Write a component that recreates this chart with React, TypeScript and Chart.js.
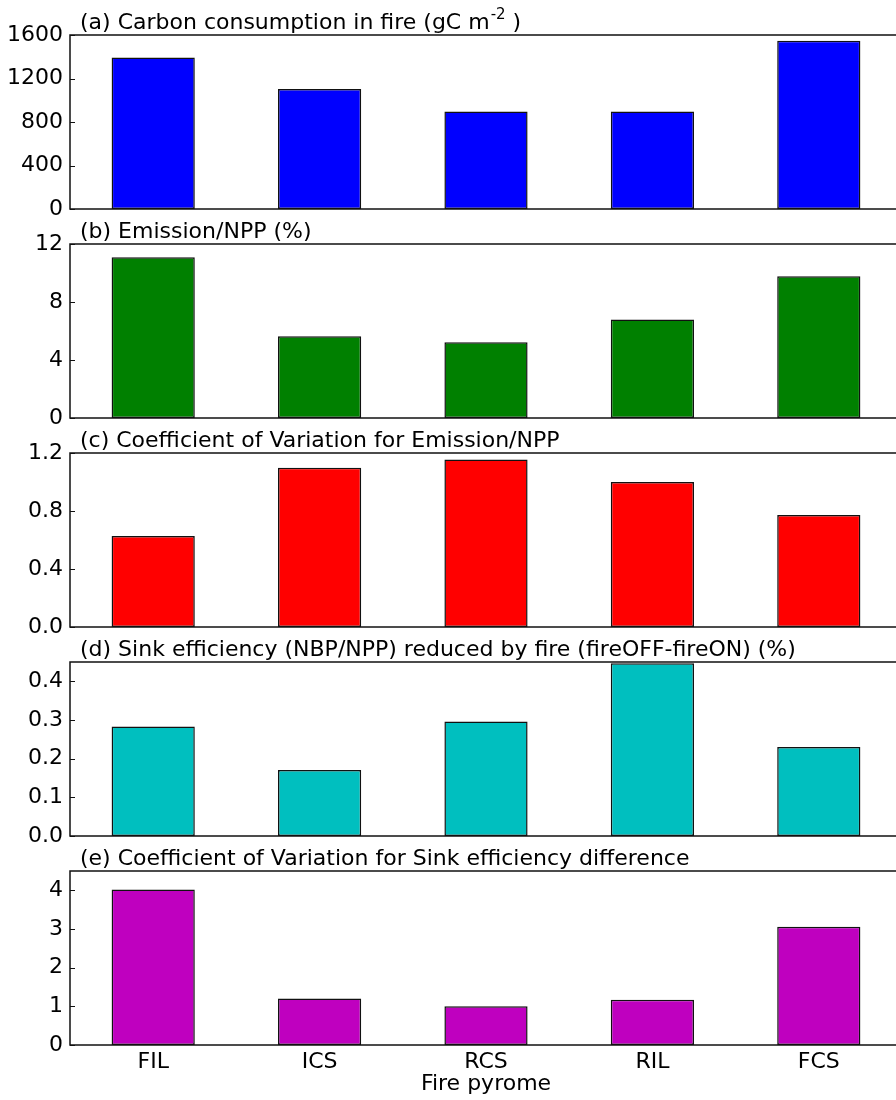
import React, { useEffect, useRef } from "react";
import { Chart, registerables } from "chart.js";

Chart.register(...registerables);

// ---------------- data ----------------
const categories = ["FIL", "ICS", "RCS", "RIL", "FCS"];
const carbonConsumption = [1392, 1104, 896, 896, 1548];
const emissionNpp = [11.08, 5.64, 5.23, 6.79, 9.77];
const cvEmission = [0.628, 1.098, 1.156, 1.0, 0.773];
const sinkReduction = [0.283, 0.171, 0.296, 0.447, 0.23];
const cvSink = [4.02, 1.2, 1.0, 1.17, 3.06];

const ticksA = [0, 400, 800, 1200, 1600];
const ticksB = [0, 4, 8, 12];
const ticksC = [0, 0.4, 0.8, 1.2];
const ticksD = [0, 0.1, 0.2, 0.3, 0.4];
const ticksE = [0, 1, 2, 3, 4];

const yMaxes = [1600, 12, 1.2, 0.45, 4.5];
const tickDecimals = [0, 0, 1, 1, 0];

const panelTitles = [
  "(a) Carbon consumption in fire (gC m^{-2} )",
  "(b) Emission/NPP (%)",
  "(c) Coefficient of Variation for Emission/NPP",
  "(d) Sink efficiency (NBP/NPP) reduced by fire (fireOFF-fireON) (%)",
  "(e) Coefficient of Variation for Sink efficiency difference",
];
const xAxisTitle = "Fire pyrome";

const seriesList = [carbonConsumption, emissionNpp, cvEmission, sinkReduction, cvSink];
const tickList = [ticksA, ticksB, ticksC, ticksD, ticksE];
const barColors = ["#0000ff", "#008000", "#ff0000", "#00bfbf", "#bf00bf"];

// ---------------- layout ----------------
const FONT = '"DejaVu Sans", "Liberation Sans", sans-serif';
const FONT_SIZE = 22;
const CANVAS_W = 920;
const PLOT_LEFT = 70;
const PLOT_RIGHT = 902;
const FIRST_TOP = 35;
const PANEL_STEP = 209;
const PANEL_H = 174;
const TITLE_SPACE = 35;
const BOTTOM_SPACE = 16;
const PAGE_H = 1100;

function drawRichTitle(ctx: CanvasRenderingContext2D, text: string, x: number, y: number) {
  const parts = text.split(/(\^\{[^}]*\})/);
  let cx = x;
  for (const p of parts) {
    if (!p) continue;
    if (p.startsWith("^{")) {
      const s = p.slice(2, -1);
      ctx.font = `${Math.round(FONT_SIZE * 0.7)}px ${FONT}`;
      ctx.fillText(s, cx + 1, y - FONT_SIZE * 0.45);
      cx += ctx.measureText(s).width + 1;
    } else {
      ctx.font = `${FONT_SIZE}px ${FONT}`;
      ctx.fillText(p, cx, y);
      cx += ctx.measureText(p).width;
    }
  }
}

const framePlugin = {
  id: "frame",
  afterDatasetsDraw(chart: any, _args: any, opts: any) {
    const { ctx, chartArea } = chart;
    const { left, right, top, bottom } = chartArea;
    const y = chart.scales.y;
    ctx.save();
    ctx.strokeStyle = "#111";
    ctx.lineWidth = 1.5;
    ctx.strokeRect(left, top, right - left, bottom - top);
    ctx.lineWidth = 1;
    for (const t of y.ticks) {
      const py = Math.round(y.getPixelForValue(t.value)) + 0.5;
      ctx.beginPath();
      ctx.moveTo(left, py);
      ctx.lineTo(left + 5, py);
      ctx.moveTo(right - 5, py);
      ctx.lineTo(right, py);
      ctx.stroke();
    }
    ctx.fillStyle = "#000";
    ctx.textAlign = "left";
    ctx.textBaseline = "alphabetic";
    drawRichTitle(ctx, opts.title, left + 10, top - 6);
    if (opts.xTitle) {
      ctx.font = `${FONT_SIZE}px ${FONT}`;
      ctx.textAlign = "center";
      ctx.textBaseline = "middle";
      ctx.fillText(opts.xTitle, (left + right) / 2, bottom + 39);
    }
    ctx.restore();
  },
};

function Panel({ index }: { index: number }) {
  const ref = useRef<HTMLCanvasElement | null>(null);
  const isLast = index === seriesList.length - 1;
  const axesTop = FIRST_TOP + PANEL_STEP * index;
  const canvasTop = axesTop - TITLE_SPACE;
  const xAxisH = PAGE_H - (axesTop + PANEL_H);
  const canvasH = isLast ? PAGE_H - canvasTop : TITLE_SPACE + PANEL_H + BOTTOM_SPACE;

  useEffect(() => {
    const canvas = ref.current!;
    const ticks = tickList[index];
    const dec = tickDecimals[index];
    const chart = new Chart(canvas, {
      type: "bar",
      data: {
        labels: categories,
        datasets: [
          {
            data: seriesList[index],
            backgroundColor: barColors[index],
            borderColor: "#111",
            borderWidth: 1.5,
            borderSkipped: false,
            barPercentage: 0.5,
            categoryPercentage: 1.0,
          },
        ],
      },
      options: {
        responsive: false,
        animation: false,
        devicePixelRatio: 1,
        layout: {
          padding: {
            top: TITLE_SPACE,
            left: 0,
            right: CANVAS_W - PLOT_RIGHT,
            bottom: isLast ? 0 : BOTTOM_SPACE,
          },
        },
        plugins: {
          legend: { display: false },
          tooltip: { enabled: false },
          frame: { title: panelTitles[index], xTitle: isLast ? xAxisTitle : "" },
        } as any,
        scales: {
          x: {
            type: "category",
            display: isLast,
            offset: true,
            grid: { display: false, drawTicks: false },
            border: { display: false },
            ticks: {
              color: "#000",
              font: { family: FONT, size: FONT_SIZE },
              padding: 4,
              maxRotation: 0,
            },
            afterFit: (s: any) => {
              if (isLast) s.height = xAxisH;
              s.paddingLeft = 0;
              s.paddingRight = 0;
            },
          },
          y: {
            type: "linear",
            min: 0,
            max: yMaxes[index],
            grid: { display: false, drawTicks: false },
            border: { display: false },
            ticks: {
              color: "#000",
              font: { family: FONT, size: FONT_SIZE },
              padding: 7,
              callback: (v: any) => Number(v).toFixed(dec),
            },
            afterBuildTicks: (s: any) => {
              s.ticks = ticks.map((v) => ({ value: v }));
            },
            afterFit: (s: any) => {
              s.width = PLOT_LEFT;
              s.paddingTop = 0;
              s.paddingBottom = 0;
            },
          },
        },
      },
      plugins: [framePlugin],
    });
    return () => chart.destroy();
  }, [index]);

  return (
    <canvas
      ref={ref}
      width={CANVAS_W}
      height={canvasH}
      style={{ position: "absolute", left: 0, top: canvasTop, width: CANVAS_W, height: canvasH }}
    />
  );
}

export default function App() {
  return (
    <div
      style={{
        position: "fixed",
        left: 0,
        top: 0,
        width: 896,
        height: PAGE_H,
        overflow: "hidden",
        background: "#fff",
      }}
    >
      {seriesList.map((_, i) => (
        <Panel key={i} index={i} />
      ))}
    </div>
  );
}
